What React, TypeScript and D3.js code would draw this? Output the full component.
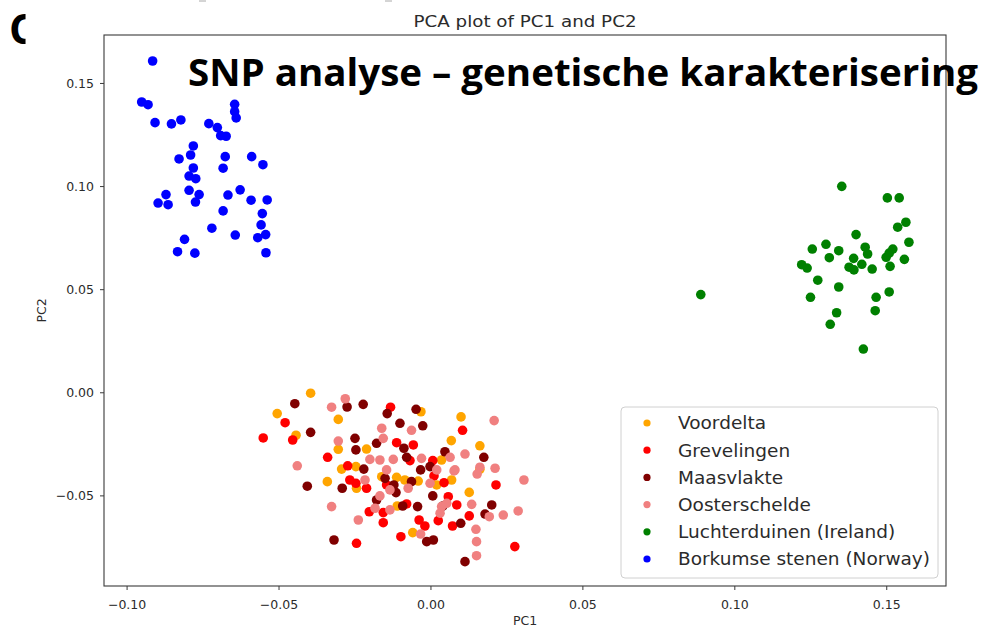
import React from "react";
import * as d3 from "d3";

// ---- data (PC1, PC2) ----
const voordelta: [number, number][] = [
  [-0.0396, -0.0002], [-0.0506, -0.0101], [-0.0444, -0.0206], [-0.0305, -0.0129], [-0.0033, -0.0092],
  [-0.0305, -0.0274], [-0.0212, -0.0273], [0.0099, -0.0117], [0.0067, -0.0232], [0.0161, -0.0257],
  [-0.0294, -0.037], [-0.0247, -0.0358], [0.0035, -0.0326], [0.0161, -0.0371], [-0.0341, -0.0431],
  [-0.0245, -0.0463], [-0.0162, -0.0407], [-0.0113, -0.041], [-0.0086, -0.0423], [-0.0042, -0.0428],
  [0.0019, -0.0447], [0.0068, -0.0423], [0.0126, -0.0483], [-0.0111, -0.0549], [-0.006, -0.0678],
];
const grevelingen: [number, number][] = [
  [-0.048, -0.0145], [-0.0552, -0.0219], [-0.0455, -0.0229], [-0.0133, -0.007], [-0.0113, -0.0242],
  [-0.0058, -0.0253], [0.0104, -0.0182], [-0.034, -0.0313], [-0.0274, -0.0354], [-0.0069, -0.0329],
  [0.0006, -0.0329], [-0.0267, -0.0423], [-0.0247, -0.0439], [-0.0212, -0.0463], [-0.0146, -0.0447],
  [0.001, -0.0403], [0.0043, -0.0436], [0.0214, -0.0447], [0.0057, -0.0504], [-0.0203, -0.0577],
  [-0.0157, -0.0581], [-0.008, -0.0539], [0.0085, -0.0544], [0.0126, -0.0597], [-0.0157, -0.063],
  [-0.0039, -0.0617], [-0.002, -0.0646], [0.0024, -0.062], [0.0071, -0.0646], [-0.0099, -0.0698],
  [-0.0245, -0.073], [0.0276, -0.0746],
];
const maasvlakte: [number, number][] = [
  [-0.0448, -0.0053], [-0.0396, -0.0192], [-0.0276, -0.0069], [-0.0223, -0.0056], [-0.0144, -0.0101],
  [-0.0049, -0.008], [-0.0102, -0.0148], [-0.0027, -0.016], [-0.0179, -0.0245], [-0.025, -0.0221],
  [-0.0247, -0.0277], [-0.0089, -0.0269], [0.0046, -0.0286], [0.0174, -0.0313], [-0.0221, -0.037],
  [-0.008, -0.0313], [-0.0034, -0.0374], [-0.0003, -0.0358], [-0.0407, -0.0453], [-0.0292, -0.0463],
  [-0.0151, -0.0415], [-0.0122, -0.0447], [-0.0064, -0.0431], [-0.0115, -0.0484], [0.0006, -0.05],
  [-0.0179, -0.052], [-0.0093, -0.0549], [-0.0044, -0.0552], [0.0039, -0.0549], [0.02, -0.0544],
  [0.0178, -0.0588], [0.0098, -0.0633], [-0.0014, -0.0722], [0.0008, -0.0714], [-0.0319, -0.0714],
  [0.0112, -0.0819],
];
const oosterschelde: [number, number][] = [
  [-0.0327, -0.007], [-0.0282, -0.0029], [-0.0064, -0.0182], [-0.0162, -0.0172], [-0.0157, -0.0221],
  [-0.0305, -0.0234], [0.0208, -0.0135], [0.0112, -0.0297], [-0.044, -0.0354], [-0.0201, -0.0323],
  [-0.0168, -0.0326], [-0.0146, -0.0374], [-0.0124, -0.0323], [-0.0031, -0.0318], [0.0019, -0.0374],
  [0.0063, -0.0313], [0.0079, -0.0374], [0.0161, -0.0361], [0.0211, -0.0366], [0.0306, -0.0423],
  [-0.0217, -0.0423], [-0.0135, -0.0471], [-0.0075, -0.0463], [-0.0003, -0.0439], [0.0076, -0.0379],
  [0.0152, -0.0394], [-0.0168, -0.05], [-0.0327, -0.0552], [-0.0184, -0.056], [-0.0135, -0.0568],
  [0.0035, -0.0552], [0.0052, -0.0536], [0.0134, -0.0541], [0.0238, -0.0593], [0.0287, -0.0573],
  [0.0192, -0.0601], [-0.0239, -0.0617], [0.003, -0.0584], [0.0148, -0.0662], [-0.0034, -0.0685],
  [0.015, -0.0722], [0.015, -0.079],
];
const luchterduinen: [number, number][] = [
  [0.1352, 0.1001], [0.1502, 0.0945], [0.1541, 0.0945], [0.1563, 0.0827], [0.1536, 0.0803],
  [0.1399, 0.0767], [0.1573, 0.073], [0.13, 0.072], [0.1255, 0.0697], [0.1342, 0.0689],
  [0.1429, 0.0706], [0.1437, 0.0673], [0.152, 0.0697], [0.1508, 0.0677], [0.1498, 0.0657],
  [0.1311, 0.0655], [0.1391, 0.0652], [0.1558, 0.0647], [0.122, 0.0621], [0.1238, 0.0605],
  [0.1376, 0.0609], [0.1392, 0.0596], [0.1418, 0.0623], [0.1452, 0.06], [0.1511, 0.0613],
  [0.1273, 0.0546], [0.1342, 0.0513], [0.1508, 0.0489], [0.1249, 0.0463], [0.1465, 0.0463],
  [0.0888, 0.0476], [0.1335, 0.0388], [0.1462, 0.0398], [0.1314, 0.0332], [0.1423, 0.0212],
];
const borkumse: [number, number][] = [
  [-0.0916, 0.1609], [-0.0952, 0.141], [-0.0931, 0.1397], [-0.0908, 0.131], [-0.0854, 0.1304],
  [-0.0823, 0.1323], [-0.0731, 0.1305], [-0.0703, 0.1286], [-0.0692, 0.1247], [-0.0674, 0.1244],
  [-0.0646, 0.1399], [-0.0646, 0.1363], [-0.0641, 0.1333], [-0.0782, 0.1197], [-0.0791, 0.1153],
  [-0.0829, 0.1134], [-0.0677, 0.1145], [-0.0684, 0.1089], [-0.059, 0.1145], [-0.0553, 0.1106],
  [-0.0782, 0.109], [-0.0796, 0.1051], [-0.0774, 0.1038], [-0.0796, 0.0982], [-0.0763, 0.0961],
  [-0.0775, 0.0925], [-0.0872, 0.0961], [-0.0898, 0.092], [-0.0865, 0.0912], [-0.0668, 0.0959],
  [-0.0628, 0.0984], [-0.0592, 0.0934], [-0.0539, 0.0935], [-0.0684, 0.0882], [-0.0555, 0.0869],
  [-0.0559, 0.0814], [-0.0721, 0.0798], [-0.0644, 0.0765], [-0.057, 0.0752], [-0.0544, 0.0767],
  [-0.0811, 0.0744], [-0.0834, 0.0684], [-0.0777, 0.0677], [-0.0543, 0.0679],
];

const seriesNames = [
  "Voordelta",
  "Grevelingen",
  "Maasvlakte",
  "Oosterschelde",
  "Luchterduinen (Ireland)",
  "Borkumse stenen (Norway)",
];
const seriesColors = ["#FFA500", "#FF0000", "#800000", "#F08080", "#008000", "#0000FF"];
const seriesData = [voordelta, grevelingen, maasvlakte, oosterschelde, luchterduinen, borkumse];

const xTicks = [-0.1, -0.05, 0.0, 0.05, 0.1, 0.15];
const yTicks = [-0.05, 0.0, 0.05, 0.1, 0.15];
const xDomain = [-0.1076, 0.1695];
const yDomain = [-0.0937, 0.1735];

const chartTitle = "PCA plot of PC1 and PC2";
const overlayTitle = "SNP analyse \u2013 genetische karakterisering";

const W = 986;
const H = 628;
const L = 104, R = 946, T = 35, B = 586;

const fmt = (v: number) => {
  const s = Math.abs(v).toFixed(2);
  return v < -1e-9 ? "\u2212" + s : s;
};

export default function App() {
  const x = d3.scaleLinear().domain(xDomain).range([L, R]);
  const y = d3.scaleLinear().domain(yDomain).range([B, T]);
  const mpl = "'DejaVu Sans', sans-serif";
  const textCol = "#2b2b2b";
  const legX = 621, legY = 407, legW = 317, legH = 171;
  const rowH = 27.2;
  const heading = "'Open Sans', Lato, sans-serif";

  return (
    <svg
      width={W}
      height={H}
      style={{ position: "absolute", left: 0, top: 0, background: "#fff" }}
      fontFamily={mpl}
    >
      <rect x={0} y={0} width={W} height={H} fill="#fff" />
      {/* small top artifacts */}
      <line x1={199} x2={206} y1={1} y2={1} stroke="#aaa" strokeWidth={1} />
      <line x1={385} x2={392} y1={1} y2={1} stroke="#aaa" strokeWidth={1} />

      {/* title */}
      <text
        x={(L + R) / 2}
        y={27}
        textAnchor="middle"
        fontSize={15}
        fill={textCol}
        textLength={223}
        lengthAdjust="spacingAndGlyphs"
      >
        {chartTitle}
      </text>

      {/* points */}
      {seriesData.map((pts, si) => (
        <g key={si}>
          {pts.map((p, i) => (
            <circle key={i} cx={x(p[0])} cy={y(p[1])} r={4.8} fill={seriesColors[si]} />
          ))}
        </g>
      ))}

      {/* frame */}
      <rect x={L} y={T} width={R - L} height={B - T} fill="none" stroke="#3a3a3a" strokeWidth={1.1} />

      {/* x ticks */}
      {xTicks.map((t) => (
        <g key={"x" + t}>
          <line x1={x(t)} x2={x(t)} y1={B} y2={B + 4} stroke="#3a3a3a" />
          <text x={x(t)} y={609} textAnchor="middle" fontSize={12.5} fill={textCol}>
            {fmt(t)}
          </text>
        </g>
      ))}
      {/* y ticks */}
      {yTicks.map((t) => (
        <g key={"y" + t}>
          <line x1={L - 4} x2={L} y1={y(t)} y2={y(t)} stroke="#3a3a3a" />
          <text x={94} y={y(t) + 4.5} textAnchor="end" fontSize={12.5} fill={textCol}>
            {fmt(t)}
          </text>
        </g>
      ))}
      <text x={(L + R) / 2} y={625} textAnchor="middle" fontSize={12.5} fill={textCol}>
        PC1
      </text>
      <text
        transform={`translate(46, ${(T + B) / 2}) rotate(-90)`}
        textAnchor="middle"
        fontSize={12.5}
        fill={textCol}
      >
        PC2
      </text>

      {/* legend */}
      <rect
        x={legX}
        y={legY}
        width={legW}
        height={legH}
        rx={4}
        fill="#fff"
        fillOpacity={0.8}
        stroke="#d0d0d0"
        strokeWidth={1}
      />
      {seriesNames.map((n, i) => (
        <g key={n}>
          <circle cx={647} cy={legY + 16 + i * rowH} r={3.6} fill={seriesColors[i]} />
          <text x={678} y={legY + 16 + i * rowH + 6.3} fontSize={18.5} fill={textCol}>
            {n}
          </text>
        </g>
      ))}

      {/* overlay heading */}
      <defs>
        <clipPath id="cclip">
          <rect x={0} y={0} width={25.5} height={60} />
        </clipPath>
      </defs>
      <text x={9} y={44} fontSize={42} fontWeight={700} fontFamily={heading} fill="#000" clipPath="url(#cclip)">
        C
      </text>
      <text
        x={188}
        y={86}
        fontSize={38}
        fontWeight={700}
        fontFamily={heading}
        fill="#000"
        textLength={790}
        lengthAdjust="spacingAndGlyphs"
      >
        {overlayTitle}
      </text>
    </svg>
  );
}
